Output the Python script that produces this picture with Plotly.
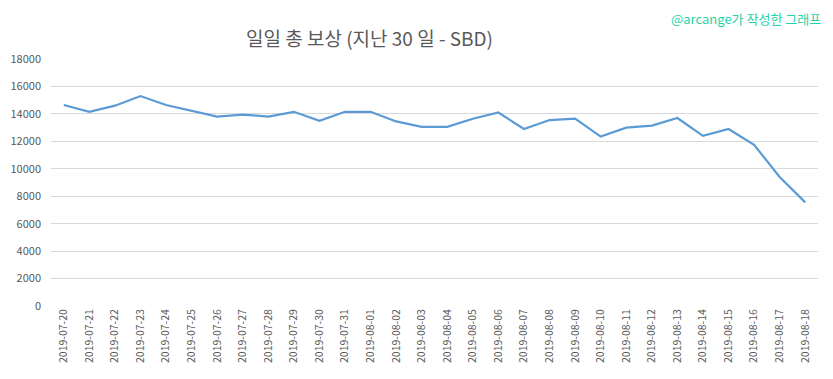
import plotly.graph_objects as go

dates = ["2019-07-20", "2019-07-21", "2019-07-22", "2019-07-23", "2019-07-24",
         "2019-07-25", "2019-07-26", "2019-07-27", "2019-07-28", "2019-07-29",
         "2019-07-30", "2019-07-31", "2019-08-01", "2019-08-02", "2019-08-03",
         "2019-08-04", "2019-08-05", "2019-08-06", "2019-08-07", "2019-08-08",
         "2019-08-09", "2019-08-10", "2019-08-11", "2019-08-12", "2019-08-13",
         "2019-08-14", "2019-08-15", "2019-08-16", "2019-08-17", "2019-08-18"]
rewards = [14650, 14150, 14600, 15300, 14650,
           14250, 13800, 13950, 13800, 14150,
           13500, 14150, 14150, 13450, 13050,
           13050, 13650, 14100, 12900, 13550,
           13650, 12350, 13000, 13150, 13700,
           12400, 12900, 11750, 9400, 7550]
y_ticks = [0, 2000, 4000, 6000, 8000, 10000, 12000, 14000, 16000, 18000]
y_tick_labels = [str(v) for v in y_ticks]

# the page body has an 8px margin, so the figure is placed at (8, 8);
# keep the page height within the window so no scrollbar appears
OFF = 8
W, H = 833 - OFF, 379 - 2 * OFF
PLOT_L, PLOT_R, PLOT_T, PLOT_B = 51, 818, 59, 306
L, R, T, B = PLOT_L - OFF, OFF + W - PLOT_R, PLOT_T - OFF, OFF + H - PLOT_B
pw, ph = W - L - R, H - T - B


def px(xpix):
    return (xpix - OFF - L) / pw


def py(ypix):
    return (H - B - (ypix - OFF)) / ph


fig = go.Figure()
fig.add_trace(go.Scatter(x=dates, y=rewards, mode="lines",
                         line=dict(color="#5b9bd5", width=2.2),
                         showlegend=False, cliponaxis=False))

fig.update_layout(
    width=W, height=H,
    margin=dict(l=L, r=R, t=T, b=B, autoexpand=False),
    paper_bgcolor="white", plot_bgcolor="white",
    font=dict(family="Noto Sans CJK KR, Noto Sans, sans-serif", color="#595959", size=11),
    xaxis=dict(type="category", tickangle=-90, showgrid=False, zeroline=False,
               showline=False, ticks="", automargin=False,
               tickfont=dict(size=10.5, color="#595959"),
               range=[-0.5, len(dates) - 0.5]),
    yaxis=dict(range=[0, 18000], tickvals=y_ticks, ticktext=y_tick_labels,
               showgrid=True, automargin=False,
               gridcolor="#d9d9d9", gridwidth=1, zeroline=False, showline=False,
               ticks="", tickfont=dict(size=11, color="#595959"), ticklabelstandoff=9),
    annotations=[
        dict(text="일일 총 보상 (지난 30 일 - SBD)", xref="paper", yref="paper",
             x=px(369), y=py(38), xanchor="center", yanchor="middle",
             showarrow=False, font=dict(size=19, color="#595959",
                                        family="Noto Sans CJK KR, sans-serif")),
        dict(text="@arcange가 작성한 그래프", xref="paper", yref="paper",
             x=px(823), y=py(18), xanchor="right", yanchor="middle",
             showarrow=False, font=dict(size=13, color="#1fd4a8",
                                        family="Noto Sans CJK KR, sans-serif")),
    ],
    shapes=[
        dict(type="line", xref="paper", yref="paper",
             x0=px(826.5), x1=px(826.5), y0=py(370.5), y1=py(OFF),
             line=dict(color="#d0d0d0", width=2)),
    ],
)

fig.write_html("out.html")
